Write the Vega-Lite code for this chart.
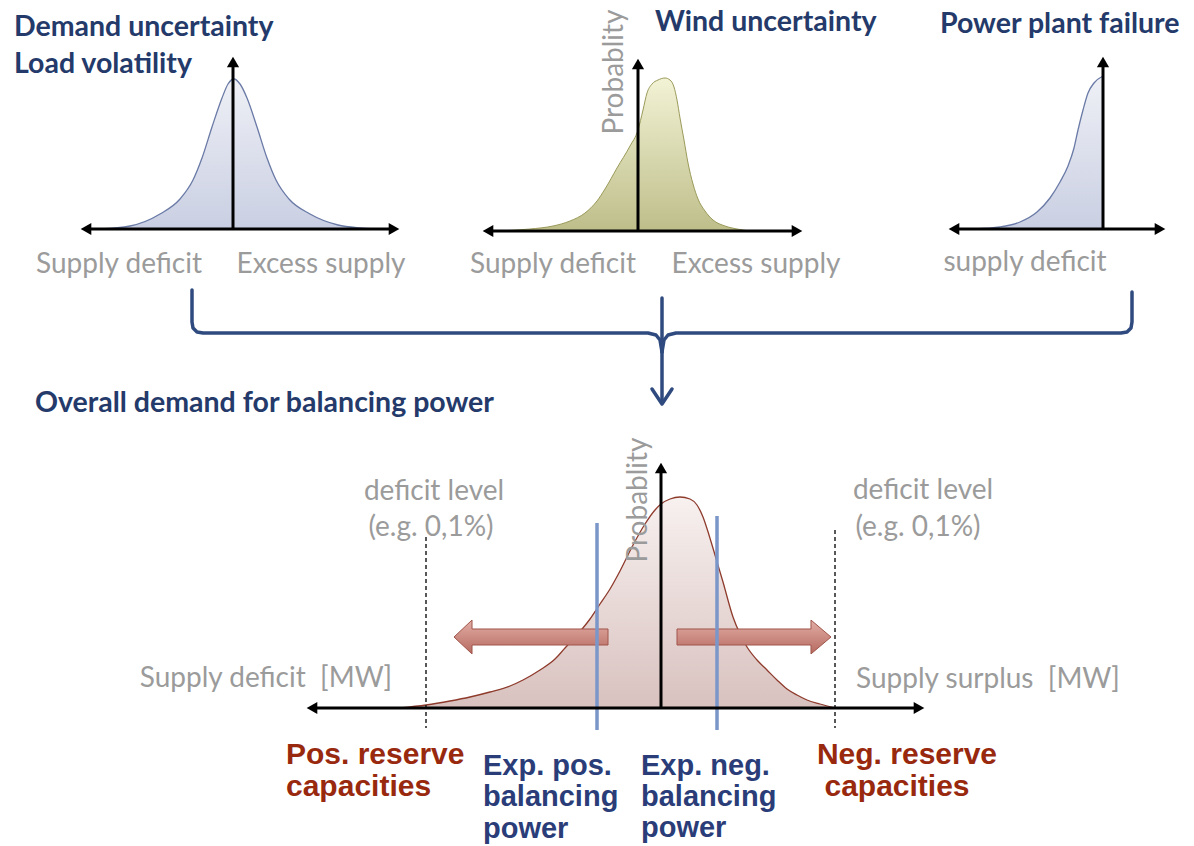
{
  "$schema": "https://vega.github.io/schema/vega-lite/v6.json",
  "width": 1194,
  "height": 846,
  "autosize": {"type": "fit", "contains": "padding"},
  "padding": 0,
  "background": "white",
  "config": {"view": {"stroke": null}},
  "resolve": {"scale": {"shape": "independent"}},
  "datasets": {
    "demand": [
      {"x":100,"y":229},{"x":130,"y":226},{"x":160,"y":214},{"x":180,"y":199},{"x":193,"y":180},{"x":202,"y":158},{"x":212,"y":127},{"x":222,"y":98},{"x":228,"y":84},{"x":234,"y":79},{"x":240,"y":84},{"x":247,"y":98},{"x":257,"y":127},{"x":267,"y":158},{"x":276,"y":180},{"x":289,"y":199},{"x":310,"y":214},{"x":338,"y":225},{"x":360,"y":228},{"x":375,"y":229}
    ],
    "wind": [
      {"x":497,"y":231},{"x":530,"y":229},{"x":553,"y":226},{"x":570,"y":221},{"x":585,"y":213},{"x":597,"y":201},{"x":605,"y":189},{"x":617,"y":168},{"x":630,"y":146},{"x":638,"y":130},{"x":643,"y":110},{"x":647,"y":93},{"x":652,"y":84},{"x":658,"y":80},{"x":665,"y":78},{"x":670,"y":80},{"x":674,"y":87},{"x":677,"y":100},{"x":680,"y":118},{"x":684,"y":140},{"x":688,"y":163},{"x":693,"y":184},{"x":698,"y":199},{"x":705,"y":211},{"x":713,"y":220},{"x":725,"y":226},{"x":737,"y":229},{"x":750,"y":231}
    ],
    "failure": [
      {"x":975,"y":229},{"x":1000,"y":227},{"x":1020,"y":222},{"x":1037,"y":212},{"x":1050,"y":198},{"x":1060,"y":182},{"x":1068,"y":166},{"x":1074,"y":148},{"x":1078,"y":130},{"x":1083,"y":110},{"x":1088,"y":93},{"x":1094,"y":83},{"x":1103,"y":76}
    ],
    "total": [
      {"x":400,"y":708},{"x":426,"y":705},{"x":450,"y":701},{"x":470,"y":697},{"x":490,"y":692},{"x":510,"y":686},{"x":523,"y":680},{"x":540,"y":670},{"x":555,"y":659},{"x":565,"y":648},{"x":577,"y":635},{"x":590,"y":619},{"x":600,"y":604},{"x":610,"y":589},{"x":620,"y":571},{"x":633,"y":545},{"x":645,"y":524},{"x":655,"y":510},{"x":661,"y":504},{"x":670,"y":499},{"x":680,"y":497},{"x":690,"y":499},{"x":697,"y":505},{"x":703,"y":517},{"x":709,"y":535},{"x":715,"y":555},{"x":723,"y":582},{"x":733,"y":617},{"x":740,"y":634},{"x":747,"y":647},{"x":757,"y":660},{"x":767,"y":670},{"x":777,"y":680},{"x":787,"y":689},{"x":797,"y":695},{"x":807,"y":700},{"x":820,"y":704},{"x":835,"y":708}
    ],
    "axes": [
      {"x":90,"y":229,"x2":390,"y2":229},{"x":233,"y":229,"x2":233,"y2":66},
      {"x":492,"y":231,"x2":793,"y2":231},{"x":638,"y":231,"x2":638,"y2":68},
      {"x":958,"y":229,"x2":1156,"y2":229},{"x":1103,"y":229,"x2":1103,"y2":66},
      {"x":316,"y":708,"x2":915,"y2":708},{"x":661,"y":708,"x2":661,"y2":472}
    ],
    "heads": [
      {"x":86,"y":229,"dir":"left"},{"x":394,"y":229,"dir":"right"},{"x":233,"y":62,"dir":"up"},
      {"x":488,"y":231,"dir":"left"},{"x":797,"y":231,"dir":"right"},{"x":638,"y":64,"dir":"up"},
      {"x":954,"y":229,"dir":"left"},{"x":1160,"y":229,"dir":"right"},{"x":1103,"y":62,"dir":"up"},
      {"x":312,"y":708,"dir":"left"},{"x":919,"y":708,"dir":"right"},{"x":661,"y":468,"dir":"up"}
    ],
    "dashed": [
      {"x":426,"y":537,"x2":426,"y2":728},{"x":835,"y":530,"x2":835,"y2":728}
    ],
    "blue": [
      {"x":597,"y":523,"x2":597,"y2":730},{"x":717,"y":516,"x2":717,"y2":730}
    ],
    "bracket": [
      {"g":"a","i":1,"x":192,"y":290},{"g":"a","i":2,"x":192,"y":322},{"g":"a","i":3,"x":193,"y":328},{"g":"a","i":4,"x":197,"y":332},{"g":"a","i":5,"x":203,"y":333},{"g":"a","i":6,"x":648,"y":333},{"g":"a","i":7,"x":656,"y":335},{"g":"a","i":8,"x":660,"y":340},{"g":"a","i":9,"x":662,"y":352},
      {"g":"b","i":1,"x":1132,"y":292},{"g":"b","i":2,"x":1132,"y":322},{"g":"b","i":3,"x":1131,"y":328},{"g":"b","i":4,"x":1127,"y":332},{"g":"b","i":5,"x":1121,"y":333},{"g":"b","i":6,"x":676,"y":333},{"g":"b","i":7,"x":668,"y":335},{"g":"b","i":8,"x":664,"y":340},{"g":"b","i":9,"x":662,"y":352},
      {"g":"c","i":1,"x":662,"y":298},{"g":"c","i":2,"x":662,"y":402},
      {"g":"d","i":1,"x":652,"y":389},{"g":"d","i":2,"x":662,"y":404},{"g":"d","i":3,"x":672,"y":389}
    ],
    "bigArrows": [
      {"x":531,"y":637,"dir":"left"},{"x":754,"y":637,"dir":"right"}
    ],
    "headings": [
      {"x":14,"y":27,"t":"Demand uncertainty"},
      {"x":14,"y":64,"t":"Load volatility"},
      {"x":655,"y":22,"t":"Wind uncertainty"},
      {"x":940,"y":24,"t":"Power plant failure"},
      {"x":35,"y":403,"t":"Overall demand for balancing power"}
    ],
    "grayLabels": [
      {"x":119,"y":265,"t":"Supply deficit"},
      {"x":321,"y":265,"t":"Excess supply"},
      {"x":553,"y":265,"t":"Supply deficit"},
      {"x":756,"y":265,"t":"Excess supply"},
      {"x":1025,"y":263,"t":"supply deficit"},
      {"x":434,"y":492,"t":"deficit level"},
      {"x":431,"y":528,"t":"(e.g. 0,1%)"},
      {"x":923,"y":491,"t":"deficit level"},
      {"x":918,"y":528,"t":"(e.g. 0,1%)"},
      {"x":266,"y":679,"t":"Supply deficit\u00a0 [MW]"},
      {"x":988,"y":680,"t":"Supply surplus\u00a0 [MW]"}
    ],
    "probLabels": [
      {"x":615,"y":72,"t":"Probablity"},
      {"x":639,"y":500,"t":"Probablity"}
    ],
    "redLabelsLeft": [
      {"x":286,"y":755,"t":"Pos. reserve"},
      {"x":286,"y":787,"t":"capacities"}
    ],
    "redLabelsCenter": [
      {"x":907,"y":755,"t":"Neg. reserve"},
      {"x":897,"y":787,"t":"capacities"}
    ],
    "navyLabels": [
      {"x":483,"y":766,"t":"Exp. pos."},
      {"x":483,"y":797,"t":"balancing"},
      {"x":483,"y":829,"t":"power"},
      {"x":641,"y":766,"t":"Exp. neg."},
      {"x":641,"y":797,"t":"balancing"},
      {"x":641,"y":828,"t":"power"}
    ]
  },
  "layer": [
    {
      "data": {"name": "demand"},
      "mark": {"type": "area", "interpolate": "monotone", "fill": {"gradient": "linear", "x1": 0, "y1": 0, "x2": 0, "y2": 1, "stops": [{"offset": 0, "color": "#e8eaf2"}, {"offset": 1, "color": "#b2bad6"}]}, "line": {"stroke": "#6a7aa6", "strokeWidth": 1.3, "interpolate": "monotone"}},
      "encoding": {
        "x": {"field": "x", "type": "quantitative", "scale": {"domain": [0, 1194], "nice": false, "zero": false}, "axis": null},
        "y": {"field": "y", "type": "quantitative", "scale": {"domain": [0, 846], "nice": false, "zero": false, "reverse": true}, "axis": null},
        "y2": {"datum": 229}
      }
    },
    {
      "data": {"name": "wind"},
      "mark": {"type": "area", "interpolate": "monotone", "fill": {"gradient": "linear", "x1": 0, "y1": 0, "x2": 0, "y2": 1, "stops": [{"offset": 0, "color": "#ededc4"}, {"offset": 1, "color": "#a2a258"}]}, "line": {"stroke": "#9a9a5a", "strokeWidth": 1, "interpolate": "monotone"}},
      "encoding": {
        "x": {"field": "x", "type": "quantitative", "scale": {"domain": [0, 1194], "nice": false, "zero": false}, "axis": null},
        "y": {"field": "y", "type": "quantitative", "scale": {"domain": [0, 846], "nice": false, "zero": false, "reverse": true}, "axis": null},
        "y2": {"datum": 231}
      }
    },
    {
      "data": {"name": "failure"},
      "mark": {"type": "area", "interpolate": "monotone", "fill": {"gradient": "linear", "x1": 0, "y1": 0, "x2": 0, "y2": 1, "stops": [{"offset": 0, "color": "#e8eaf2"}, {"offset": 1, "color": "#b2bad6"}]}, "line": {"stroke": "#6a7aa6", "strokeWidth": 1.3, "interpolate": "monotone"}},
      "encoding": {
        "x": {"field": "x", "type": "quantitative", "scale": {"domain": [0, 1194], "nice": false, "zero": false}, "axis": null},
        "y": {"field": "y", "type": "quantitative", "scale": {"domain": [0, 846], "nice": false, "zero": false, "reverse": true}, "axis": null},
        "y2": {"datum": 229}
      }
    },
    {
      "data": {"name": "total"},
      "mark": {"type": "area", "interpolate": "monotone", "fill": {"gradient": "linear", "x1": 0, "y1": 0, "x2": 0, "y2": 1, "stops": [{"offset": 0, "color": "#f4ebe9"}, {"offset": 1, "color": "#c8a7a3"}]}, "line": {"stroke": "#8e3b2c", "strokeWidth": 1.3, "interpolate": "monotone"}},
      "encoding": {
        "x": {"field": "x", "type": "quantitative", "scale": {"domain": [0, 1194], "nice": false, "zero": false}, "axis": null},
        "y": {"field": "y", "type": "quantitative", "scale": {"domain": [0, 846], "nice": false, "zero": false, "reverse": true}, "axis": null},
        "y2": {"datum": 708}
      }
    },
    {
      "data": {"name": "dashed"},
      "mark": {"type": "rule", "color": "#222222", "strokeWidth": 1.5, "strokeDash": [4, 3]},
      "encoding": {
        "x": {"field": "x", "type": "quantitative", "scale": {"domain": [0, 1194], "nice": false, "zero": false}, "axis": null},
        "y": {"field": "y", "type": "quantitative", "scale": {"domain": [0, 846], "nice": false, "zero": false, "reverse": true}, "axis": null},
        "x2": {"field": "x2"},
        "y2": {"field": "y2"}
      }
    },
    {
      "data": {"name": "bigArrows"},
      "mark": {"type": "point", "filled": true, "opacity": 1, "size": 23716, "fill": {"gradient": "linear", "x1": 0, "y1": 0, "x2": 0, "y2": 1, "stops": [{"offset": 0, "color": "#e2aea6"}, {"offset": 1, "color": "#b66a60"}]}, "stroke": "#a0554b", "strokeWidth": 1},
      "encoding": {
        "x": {"field": "x", "type": "quantitative", "scale": {"domain": [0, 1194], "nice": false, "zero": false}, "axis": null},
        "y": {"field": "y", "type": "quantitative", "scale": {"domain": [0, 846], "nice": false, "zero": false, "reverse": true}, "axis": null},
        "shape": {"field": "dir", "type": "nominal", "scale": {"domain": ["left", "right"], "range": ["M-1,0L-0.766,-0.22L-0.766,-0.104L1,-0.104L1,0.104L-0.766,0.104L-0.766,0.22Z", "M1,0L0.74,-0.22L0.74,-0.104L-1,-0.104L-1,0.104L0.74,0.104L0.74,0.22Z"]}, "legend": null}
      }
    },
    {
      "data": {"name": "blue"},
      "mark": {"type": "rule", "color": "#7b96c9", "strokeWidth": 3.5},
      "encoding": {
        "x": {"field": "x", "type": "quantitative", "scale": {"domain": [0, 1194], "nice": false, "zero": false}, "axis": null},
        "y": {"field": "y", "type": "quantitative", "scale": {"domain": [0, 846], "nice": false, "zero": false, "reverse": true}, "axis": null},
        "x2": {"field": "x2"},
        "y2": {"field": "y2"}
      }
    },
    {
      "data": {"name": "axes"},
      "mark": {"type": "rule", "color": "#000000", "strokeWidth": 3},
      "encoding": {
        "x": {"field": "x", "type": "quantitative", "scale": {"domain": [0, 1194], "nice": false, "zero": false}, "axis": null},
        "y": {"field": "y", "type": "quantitative", "scale": {"domain": [0, 846], "nice": false, "zero": false, "reverse": true}, "axis": null},
        "x2": {"field": "x2"},
        "y2": {"field": "y2"}
      }
    },
    {
      "data": {"name": "heads"},
      "mark": {"type": "point", "filled": true, "opacity": 1, "color": "#000000", "size": 150},
      "encoding": {
        "x": {"field": "x", "type": "quantitative", "scale": {"domain": [0, 1194], "nice": false, "zero": false}, "axis": null},
        "y": {"field": "y", "type": "quantitative", "scale": {"domain": [0, 846], "nice": false, "zero": false, "reverse": true}, "axis": null},
        "shape": {"field": "dir", "type": "nominal", "scale": {"domain": ["left", "right", "up", "down"], "range": ["triangle-left", "triangle-right", "triangle-up", "triangle-down"]}, "legend": null}
      }
    },
    {
      "data": {"name": "bracket"},
      "mark": {"type": "line", "color": "#2f4a7f", "strokeWidth": 3.5, "strokeCap": "round", "strokeJoin": "round"},
      "encoding": {
        "x": {"field": "x", "type": "quantitative", "scale": {"domain": [0, 1194], "nice": false, "zero": false}, "axis": null},
        "y": {"field": "y", "type": "quantitative", "scale": {"domain": [0, 846], "nice": false, "zero": false, "reverse": true}, "axis": null},
        "detail": {"field": "g", "type": "nominal"},
        "order": {"field": "i", "type": "quantitative"}
      }
    },
    {
      "data": {"name": "headings"},
      "mark": {"type": "text", "align": "left", "baseline": "middle", "font": "Lato", "fontWeight": "bold", "fontSize": 28.5, "color": "#243a6a"},
      "encoding": {
        "x": {"field": "x", "type": "quantitative", "scale": {"domain": [0, 1194], "nice": false, "zero": false}, "axis": null},
        "y": {"field": "y", "type": "quantitative", "scale": {"domain": [0, 846], "nice": false, "zero": false, "reverse": true}, "axis": null},
        "text": {"field": "t"}
      }
    },
    {
      "data": {"name": "grayLabels"},
      "mark": {"type": "text", "align": "center", "baseline": "middle", "font": "Lato", "fontSize": 28, "color": "#9b9b9b"},
      "encoding": {
        "x": {"field": "x", "type": "quantitative", "scale": {"domain": [0, 1194], "nice": false, "zero": false}, "axis": null},
        "y": {"field": "y", "type": "quantitative", "scale": {"domain": [0, 846], "nice": false, "zero": false, "reverse": true}, "axis": null},
        "text": {"field": "t"}
      }
    },
    {
      "data": {"name": "probLabels"},
      "mark": {"type": "text", "align": "center", "baseline": "middle", "font": "Lato", "fontSize": 28, "angle": 270, "color": "#9b9b9b"},
      "encoding": {
        "x": {"field": "x", "type": "quantitative", "scale": {"domain": [0, 1194], "nice": false, "zero": false}, "axis": null},
        "y": {"field": "y", "type": "quantitative", "scale": {"domain": [0, 846], "nice": false, "zero": false, "reverse": true}, "axis": null},
        "text": {"field": "t"}
      }
    },
    {
      "data": {"name": "redLabelsLeft"},
      "mark": {"type": "text", "align": "left", "baseline": "middle", "font": "Liberation Sans", "fontWeight": "bold", "fontSize": 30, "color": "#98290e"},
      "encoding": {
        "x": {"field": "x", "type": "quantitative", "scale": {"domain": [0, 1194], "nice": false, "zero": false}, "axis": null},
        "y": {"field": "y", "type": "quantitative", "scale": {"domain": [0, 846], "nice": false, "zero": false, "reverse": true}, "axis": null},
        "text": {"field": "t"}
      }
    },
    {
      "data": {"name": "redLabelsCenter"},
      "mark": {"type": "text", "align": "center", "baseline": "middle", "font": "Liberation Sans", "fontWeight": "bold", "fontSize": 30, "color": "#98290e"},
      "encoding": {
        "x": {"field": "x", "type": "quantitative", "scale": {"domain": [0, 1194], "nice": false, "zero": false}, "axis": null},
        "y": {"field": "y", "type": "quantitative", "scale": {"domain": [0, 846], "nice": false, "zero": false, "reverse": true}, "axis": null},
        "text": {"field": "t"}
      }
    },
    {
      "data": {"name": "navyLabels"},
      "mark": {"type": "text", "align": "left", "baseline": "middle", "font": "Liberation Sans", "fontWeight": "bold", "fontSize": 29, "color": "#2a3d78"},
      "encoding": {
        "x": {"field": "x", "type": "quantitative", "scale": {"domain": [0, 1194], "nice": false, "zero": false}, "axis": null},
        "y": {"field": "y", "type": "quantitative", "scale": {"domain": [0, 846], "nice": false, "zero": false, "reverse": true}, "axis": null},
        "text": {"field": "t"}
      }
    }
  ]
}
